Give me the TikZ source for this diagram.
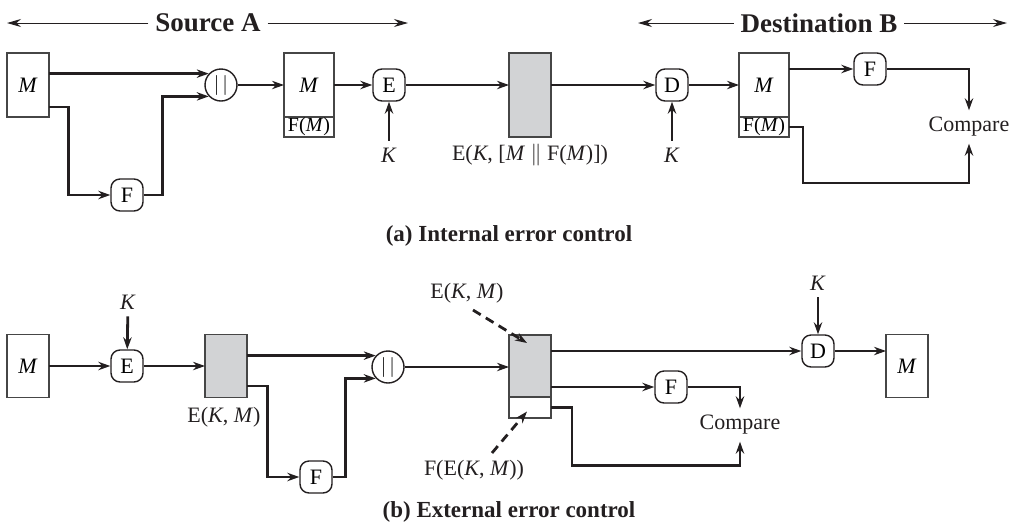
\documentclass[tikz,border=0pt]{standalone}
\usepackage{fontspec}
\setmainfont{Liberation Serif}
\usetikzlibrary{arrows.meta,positioning,calc}
\definecolor{ecInk}{RGB}{35,31,32}
\definecolor{ecEdge}{RGB}{70,70,70}
\definecolor{ecGray}{RGB}{210,211,213}

\begin{document}
\begin{tikzpicture}[x=0.5pt,y=-0.5pt,
    blk/.style={draw=ecEdge,line width=0.6pt,fill=white,minimum width=21pt,
      minimum height=32pt,inner sep=0pt,outer sep=0pt,font=\fontsize{11}{13}\selectfont},
    sh/.style={fill=ecGray},
    tag/.style={font=\fontsize{10}{12}\selectfont},
    op/.style={draw=ecInk,line width=0.7pt,rounded corners=4.5pt,minimum size=16pt,
      inner sep=0pt,font=\fontsize{11}{13}\selectfont},
    cat/.style={circle,draw=ecInk,line width=0.7pt,minimum size=16pt,inner sep=0pt},
    lbl/.style={font=\fontsize{11}{13}\selectfont,text=ecInk},
    hdr/.style={font=\fontsize{13.5}{16}\selectfont\bfseries,text=ecInk},
    capt/.style={font=\fontsize{11.5}{14}\selectfont\bfseries,text=ecInk},
    arr/.style={-{Stealth[length=6pt,width=4.2pt]},line width=1.4pt,draw=ecInk},
    harr/.style={-{Stealth[length=7pt,width=4pt]},line width=0.5pt,draw=ecInk},
    darr/.style={arr,dash pattern=on 4.5pt off 3pt}
  ]
  \useasboundingbox (0,0) rectangle (1018,526);

  % headers
  \node[hdr] (srcA) at (208,23) {Source A};
  \node[hdr] (dstB) at (819,23) {Destination B};
  \coordinate (srcL) at (7,23);
  \coordinate (srcR) at (408,23);
  \coordinate (dstL) at (638,23);
  \coordinate (dstR) at (1007,23);
  \draw[harr] (srcA) -- (srcL);
  \draw[harr] (srcA) -- (srcR);
  \draw[harr] (dstB) -- (dstL);
  \draw[harr] (dstB) -- (dstR);

  % (a) internal error control
  \node[blk] (mA) at (28,85) {\textit{M}};
  \node[op] (fA) at (127,195) {F};
  \node[cat] (catA) at (221,85) {$|\hspace{1.5pt}|$};
  \node[blk,minimum width=25pt] (mB) at (309,85) {\textit{M}};
  \node[blk,tag,minimum width=25pt,minimum height=10pt,below=0pt of mB] (fmB) {F(\textit{M})};
  \node[op] (eA) at (389,85) {E};
  \node[lbl] (kA) at (389,155) {\textit{K}};
  \node[blk,sh,minimum height=42pt] (ctA) at (530,95) {};
  \node[lbl] (ctAlbl) at (530,155) {E(\textit{K}, [\textit{M} $\|$ F(\textit{M})])};
  \node[op] (dA) at (672,85) {D};
  \node[lbl] (kB) at (672,155) {\textit{K}};
  \node[blk,minimum width=25pt] (mC) at (764,85) {\textit{M}};
  \node[blk,tag,minimum width=25pt,minimum height=10pt,below=0pt of mC] (fmC) {F(\textit{M})};
  \node[op] (fB) at (870,69) {F};
  \node[lbl] (cmpA) at (969,127) {Compare};
  \node[capt] (capA) at (509,236) {(a) Internal error control};

  \draw[arr] (mA.east |- catA.137) -- (catA.137);
  \draw[arr] ($(mA.east)+(0,22)$) -| ($(fA.west)+(-42,0)$) -- (fA.west);
  \draw[arr] (fA.east) -| ($(catA.223)+(-46,0)$) -- (catA.223);
  \draw[arr] (catA) -- (mB);
  \draw[arr] (mB) -- (eA);
  \draw[arr] (kA) -- (eA);
  \draw[arr] (eA) -- (eA -| ctA.west);
  \draw[arr] (ctA.east |- dA) -- (dA);
  \draw[arr] (kB) -- (dA);
  \draw[arr] (dA) -- (mC);
  \draw[arr] (mC.east |- fB) -- (fB);
  \draw[arr] (fB) -| (cmpA);
  \draw[arr] (fmC.east) -| ($(fmC.east)+(14,56)$) -| (cmpA.south);

  % (b) external error control
  \node[blk,minimum height=31.5pt] (mD) at (28,366) {\textit{M}};
  \node[op] (eB) at (127,366) {E};
  \node[lbl] (kC) at (128,302) {\textit{K}};
  \node[blk,sh,minimum height=31.5pt] (ctB) at (226,366) {};
  \node[lbl] (ctBlbl) at (224,417) {E(\textit{K}, \textit{M})};
  \node[op] (fC) at (316,477) {F};
  \node[cat] (catB) at (388,367) {$|\hspace{1.5pt}|$};
  \node[blk,sh,minimum height=31pt] (ctC) at (530,366) {};
  \node[blk,minimum height=10.5pt,below=0pt of ctC] (wC) {};
  \node[lbl] (ekm) at (467,293) {E(\textit{K}, \textit{M})};
  \node[lbl] (fekm) at (474,470) {F(E(\textit{K}, \textit{M}))};
  \node[op] (fD) at (671,387) {F};
  \node[lbl] (cmpB) at (740,425) {Compare};
  \node[op] (dB) at (818,351) {D};
  \node[lbl] (kD) at (818,283) {\textit{K}};
  \node[blk,minimum height=31.5pt] (mE) at (907,366) {\textit{M}};
  \node[capt] (capB) at (509,512) {(b) External error control};

  \draw[arr] (mD) -- (eB);
  \draw[arr] (kC) -- (eB);
  \draw[arr] (eB) -- (ctB);
  \draw[arr] (ctB.east |- catB.137) -- (catB.137);
  \draw[arr] ($(ctB.east)+(0,20)$) -| ($(fC.west)+(-32,0)$) -- (fC.west);
  \draw[arr] (fC.east) -| ($(catB.223)+(-30,0)$) -- (catB.223);
  \draw[arr] (catB) -- (catB -| ctC.west);
  \draw[darr] ($(ekm.south)+(6,0)$) -- ($(ctC.north)+(-3,8)$);
  \draw[darr] ($(fekm.north)+(18,0)$) -- ($(wC.center)+(-3,4)$);
  \draw[arr] (ctC.east |- dB) -- (dB);
  \draw[arr] (kD) -- (dB);
  \draw[arr] (dB) -- (dB -| mE.west);
  \draw[arr] (ctC.east |- fD) -- (fD);
  \draw[arr] (fD) -| (cmpB);
  \draw[arr] (wC.east) -| ($(wC.east)+(21,58)$) -| (cmpB.south);
\end{tikzpicture}
\end{document}
